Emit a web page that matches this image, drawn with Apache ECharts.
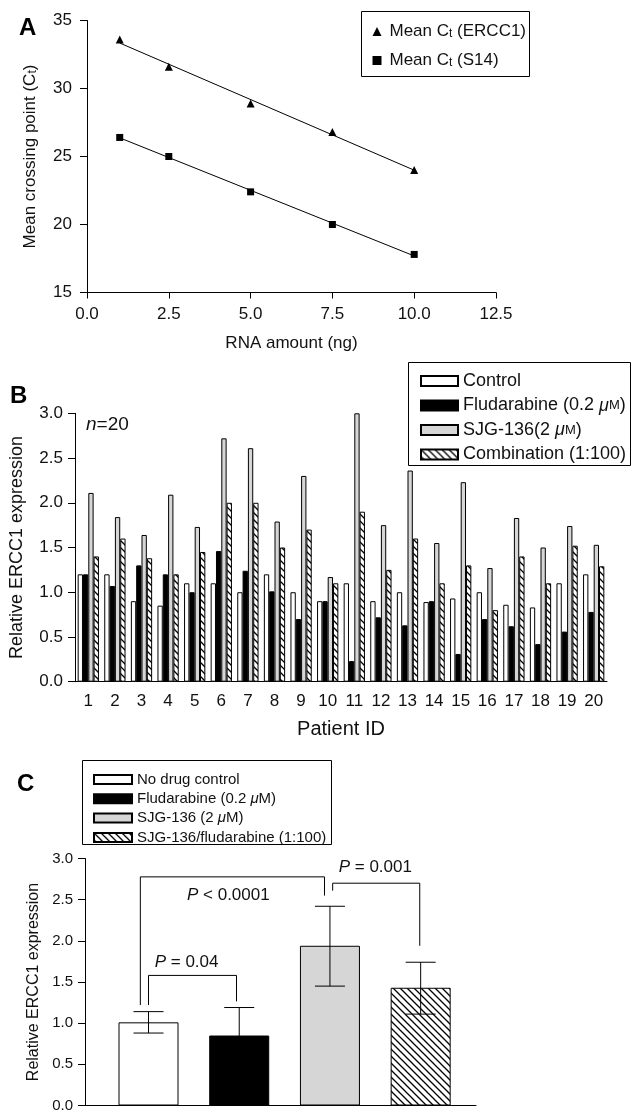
<!DOCTYPE html>
<html><head><meta charset="utf-8">
<script src="https://cdn.jsdelivr.net/npm/echarts@6/dist/echarts.min.js"></script>
<style>html,body{margin:0;padding:0;background:#fff}#c{width:632px;height:1113px}</style>
</head><body><div id="c"></div>
<script>
// ---------- Panel A data ----------
const rnaAmounts = [1, 2.5, 5, 7.5, 10];
const ctERCC1 = [33.6, 31.6, 28.9, 26.8, 24.0];
const ctS14 = [26.4, 25.0, 22.4, 20.0, 17.8];

// ---------- Panel B data ----------
const patientIds = ['1','2','3','4','5','6','7','8','9','10','11','12','13','14','15','16','17','18','19','20'];
const bControl = [1.20, 1.20, 0.90, 0.85, 1.10, 1.10, 1.00, 1.20, 1.00, 0.90, 1.10, 0.90, 1.00, 0.89, 0.93, 1.00, 0.86, 0.83, 1.10, 1.20];
const bFlud    = [1.20, 1.07, 1.30, 1.20, 1.00, 1.46, 1.24, 1.01, 0.70, 0.90, 0.23, 0.72, 0.63, 0.90, 0.31, 0.70, 0.62, 0.42, 0.56, 0.78];
const bSJG     = [2.11, 1.84, 1.64, 2.09, 1.73, 2.72, 2.61, 1.79, 2.30, 1.17, 3.00, 1.75, 2.36, 1.55, 2.23, 1.27, 1.83, 1.50, 1.74, 1.53];
const bCombo   = [1.40, 1.60, 1.38, 1.20, 1.45, 2.00, 2.00, 1.50, 1.70, 1.10, 1.90, 1.25, 1.60, 1.10, 1.30, 0.80, 1.40, 1.10, 1.52, 1.29];

// ---------- Panel C data ----------
const cPositions = [1, 2, 3, 4];
const cNames = ['No drug control', 'Fludarabine (0.2 \u03bcM)', 'SJG-136 (2 \u03bcM)', 'SJG-136/fludarabine (1:100)'];
const cMeans = [1.01, 0.85, 1.94, 1.43];
const cLow   = [0.88, 0.51, 1.45, 1.11];
const cHigh  = [1.14, 1.19, 2.42, 1.74];
const cBrackets = [
  [[1.00, 1.22], [1.00, 1.58], [1.97, 1.58], [1.97, 1.265]],
  [[0.91, 1.22], [0.91, 2.777], [2.94, 2.777], [2.94, 2.55]],
  [[3.03, 2.61], [3.03, 2.70], [3.99, 2.70], [3.99, 1.94]]
];
const cPLabels = [
  [1.42, 1.74, ' = 0.04'],
  [1.88, 2.55, ' < 0.0001'],
  [3.50, 2.89, ' = 0.001']
];

const bNames = ['Control', 'Fludarabine (0.2 \u00b5M)', 'SJG-136(2 \u00b5M)', 'Combination (1:100)'];

const FONT = '"Liberation Sans", Arial, Helvetica, sans-serif';
const TXT = '#111';

function hatch() {
  const c = document.createElement('canvas');
  c.width = 7; c.height = 7;
  const g = c.getContext('2d');
  g.fillStyle = '#fff'; g.fillRect(0, 0, 7, 7);
  g.strokeStyle = '#000'; g.lineWidth = 1.3;
  g.beginPath();
  g.moveTo(0, 0); g.lineTo(7, 7);
  g.moveTo(-1, 6); g.lineTo(1, 8);
  g.moveTo(6, -1); g.lineTo(8, 1);
  g.stroke();
  return c;
}
const hatchPattern = { image: hatch(), repeat: 'repeat' };

function fit(xs, ys) {
  const n = xs.length;
  const mx = xs.reduce((a, b) => a + b, 0) / n;
  const my = ys.reduce((a, b) => a + b, 0) / n;
  let sxy = 0, sxx = 0;
  for (let i = 0; i < n; i++) { sxy += (xs[i] - mx) * (ys[i] - my); sxx += (xs[i] - mx) ** 2; }
  const b = sxy / sxx, a = my - b * mx;
  const x0 = xs[0], x1 = xs[n - 1];
  return [[x0, a + b * x0], [x1, a + b * x1]];
}

const axisLineStyle = { lineStyle: { color: '#000', width: 1 } };
const tickStyle = { show: true, inside: false, length: 7, lineStyle: { color: '#000', width: 1 } };

const barStyles = [
  { color: '#fff', borderColor: '#000', borderWidth: 1 },
  { color: '#000', borderColor: '#000', borderWidth: 1 },
  { color: '#d6d6d6', borderColor: '#000', borderWidth: 1 },
  { color: hatchPattern, borderColor: '#000', borderWidth: 1 }
];

function muFmt(name) {
  return name.replace(/[\u00b5\u03bc]M/, '{i|\u03bc}{m|M}');
}

const bSeriesData = [bControl, bFlud, bSJG, bCombo];

const option = {
  animation: false,
  textStyle: { fontFamily: FONT, color: TXT },
  grid: [
    { left: 87, top: 20.5, width: 409, height: 272 },
    { left: 75, top: 413.3, width: 532, height: 268.4 },
    { left: 85, top: 858.5, width: 391, height: 247.5 }
  ],
  xAxis: [
    { gridIndex: 0, type: 'value', min: 0, max: 12.5, interval: 2.5,
      axisLine: axisLineStyle, axisTick: Object.assign({}, tickStyle, { length: 6 }), splitLine: { show: false },
      axisLabel: { color: TXT, fontSize: 17, fontFamily: FONT, margin: 13, formatter: v => v.toFixed(1) },
      name: 'RNA amount (ng)', nameLocation: 'middle', nameGap: 42,
      nameTextStyle: { color: TXT, fontSize: 17, fontFamily: FONT } },
    { gridIndex: 1, type: 'category', data: patientIds,
      axisLine: axisLineStyle, axisTick: { show: false },
      axisLabel: { color: TXT, fontSize: 17, fontFamily: FONT, margin: 11, interval: 0 },
      name: 'Patient ID', nameLocation: 'middle', nameGap: 38,
      nameTextStyle: { color: TXT, fontSize: 20, fontFamily: FONT } },
    { gridIndex: 2, type: 'value', min: 0.3, max: 4.61,
      axisLine: axisLineStyle, axisTick: { show: false }, axisLabel: { show: false }, splitLine: { show: false } }
  ],
  yAxis: [
    { gridIndex: 0, type: 'value', min: 15, max: 35, interval: 5,
      axisLine: { show: true, lineStyle: { color: '#000', width: 1 } }, axisTick: tickStyle, splitLine: { show: false },
      axisLabel: { color: TXT, fontSize: 17, fontFamily: FONT, margin: 15 },
      name: 'Mean crossing point (C{s|t})', nameLocation: 'middle', nameGap: 48, nameRotate: 90,
      nameTextStyle: { color: TXT, fontSize: 17, fontFamily: FONT, lineHeight: 17,
        rich: { s: { fontSize: 12, fontFamily: FONT, color: TXT, lineHeight: 3, verticalAlign: 'bottom' } } } },
    { gridIndex: 1, type: 'value', min: 0, max: 3, interval: 0.5,
      axisLine: { show: true, lineStyle: { color: '#000', width: 1 } }, axisTick: tickStyle, splitLine: { show: false },
      axisLabel: { color: TXT, fontSize: 17, fontFamily: FONT, margin: 12, formatter: v => v.toFixed(1) },
      name: 'Relative ERCC1 expression', nameLocation: 'middle', nameGap: 49, nameRotate: 90,
      nameTextStyle: { color: TXT, fontSize: 18, fontFamily: FONT } },
    { gridIndex: 2, type: 'value', min: 0, max: 3, interval: 0.5,
      axisLine: { show: true, lineStyle: { color: '#000', width: 1 } }, axisTick: tickStyle, splitLine: { show: false },
      axisLabel: { color: TXT, fontSize: 15, fontFamily: FONT, margin: 12, formatter: v => v.toFixed(1) },
      name: 'Relative ERCC1 expression', nameLocation: 'middle', nameGap: 43, nameRotate: 90,
      nameTextStyle: { color: TXT, fontSize: 16, fontFamily: FONT } }
  ],
  legend: [
    { data: ['ERCC1', 'S14'], orient: 'vertical', left: 367.5, top: 18, itemWidth: 9, itemHeight: 9, itemGap: 12,
      selectedMode: false, z: 10,
      formatter: n => 'Mean C{s|t} (' + n + ')',
      textStyle: { fontSize: 17, fontFamily: FONT, color: TXT, lineHeight: 17, padding: [0, 0, 0, 3],
        rich: { s: { fontSize: 12, fontFamily: FONT, color: TXT, lineHeight: 3, verticalAlign: 'bottom' } } } },
    { data: bNames, orient: 'vertical', left: 415, top: 367, itemWidth: 37, itemHeight: 10, itemGap: 6.5,
      selectedMode: false, icon: 'rect', z: 10,
      formatter: muFmt,
      textStyle: { fontSize: 18, fontFamily: FONT, color: TXT, lineHeight: 18,
        rich: { i: { fontSize: 18, fontStyle: 'italic', fontFamily: FONT, color: TXT }, m: { fontSize: 13, fontFamily: FONT, color: TXT } } } },
    { data: cNames, orient: 'vertical', left: 88, top: 767, itemWidth: 38, itemHeight: 9, itemGap: 4.3,
      selectedMode: false, icon: 'rect', z: 10,
      formatter: n => n.replace('\u03bc', '{i|\u03bc}'),
      textStyle: { fontSize: 15, fontFamily: FONT, color: TXT, lineHeight: 15,
        rich: { i: { fontSize: 15, fontStyle: 'italic', fontFamily: FONT, color: TXT } } } }
  ],
  graphic: [
    { type: 'rect', left: 361, top: 11, shape: { width: 168, height: 65 }, style: { fill: '#fff', stroke: '#000', lineWidth: 1 }, z: 0 },
    { type: 'rect', left: 408, top: 362, shape: { width: 222, height: 103 }, style: { fill: '#fff', stroke: '#000', lineWidth: 1 }, z: 3 },
    { type: 'rect', left: 82, top: 760, shape: { width: 249, height: 84 }, style: { fill: '#fff', stroke: '#000', lineWidth: 1 }, z: 0 },
    { type: 'text', left: 19, top: 16, style: { text: 'A', font: 'bold 24px ' + FONT, fill: '#000' } },
    { type: 'text', left: 10, top: 384, style: { text: 'B', font: 'bold 24px ' + FONT, fill: '#000' } },
    { type: 'text', left: 17, top: 772, style: { text: 'C', font: 'bold 24px ' + FONT, fill: '#000' } },
    { type: 'text', left: 86, top: 415, style: { text: '{i|n}=20', font: '19px ' + FONT, fill: TXT,
        rich: { i: { fontStyle: 'italic', fontSize: 19, fontFamily: FONT, fill: TXT } } } }
  ],
  series: [
    // Panel A
    { name: 'ERCC1', type: 'scatter', xAxisIndex: 0, yAxisIndex: 0, symbol: 'triangle', symbolSize: 8,
      itemStyle: { color: '#000', opacity: 1 }, data: rnaAmounts.map((x, i) => [x, ctERCC1[i]]), z: 3 },
    { name: 'S14', type: 'scatter', xAxisIndex: 0, yAxisIndex: 0, symbol: 'rect', symbolSize: 7,
      itemStyle: { color: '#000', opacity: 1 }, data: rnaAmounts.map((x, i) => [x, ctS14[i]]), z: 3 },
    { name: 'fitERCC1', type: 'line', xAxisIndex: 0, yAxisIndex: 0, symbol: 'none', silent: true,
      lineStyle: { color: '#000', width: 1 }, data: fit(rnaAmounts, ctERCC1) },
    { name: 'fitS14', type: 'line', xAxisIndex: 0, yAxisIndex: 0, symbol: 'none', silent: true,
      lineStyle: { color: '#000', width: 1 }, data: fit(rnaAmounts, ctS14) },
    // Panel B
    ...bNames.map((n, k) => ({
      name: n, type: 'bar', xAxisIndex: 1, yAxisIndex: 1, barWidth: '20%', barGap: 0,
      itemStyle: barStyles[k], data: bSeriesData[k], z: 2
    })),
    // Panel C bars
    ...cNames.map((n, k) => ({
      name: n, type: 'bar', xAxisIndex: 2, yAxisIndex: 2, barWidth: 60, barGap: '-100%',
      itemStyle: barStyles[k], data: [[cPositions[k], cMeans[k]]], z: 2
    })),
    // Panel C error bars
    { name: 'err', type: 'custom', xAxisIndex: 2, yAxisIndex: 2, z: 10, silent: true,
      data: cPositions.map((p, i) => [p, cLow[i], cHigh[i]]),
      renderItem: (params, api) => {
        const x = api.value(0);
        const lo = api.coord([x, api.value(1)]);
        const hi = api.coord([x, api.value(2)]);
        const w = 15;
        const st = { stroke: '#000', lineWidth: 1 };
        return { type: 'group', children: [
          { type: 'line', shape: { x1: lo[0], y1: lo[1], x2: hi[0], y2: hi[1] }, style: st },
          { type: 'line', shape: { x1: hi[0] - w, y1: hi[1], x2: hi[0] + w, y2: hi[1] }, style: st },
          { type: 'line', shape: { x1: lo[0] - w, y1: lo[1], x2: lo[0] + w, y2: lo[1] }, style: st }
        ] };
      } },
    // Panel C brackets
    ...cBrackets.map((b, i) => ({
      name: 'br' + i, type: 'line', xAxisIndex: 2, yAxisIndex: 2, symbol: 'none', silent: true,
      lineStyle: { color: '#000', width: 1 }, data: b, z: 4
    })),
    // Panel C p-value labels
    { name: 'plabels', type: 'scatter', xAxisIndex: 2, yAxisIndex: 2, symbolSize: 0, silent: true,
      itemStyle: { opacity: 1 },
      data: cPLabels,
      label: { show: true, position: 'inside', color: TXT, fontSize: 17, fontFamily: FONT, opacity: 1,
        formatter: p => '{i|P}' + p.data[2],
        rich: { i: { fontStyle: 'italic', fontSize: 17, fontFamily: FONT, color: TXT } } } }
  ]
};

const chart = echarts.init(document.getElementById('c'), null, { renderer: 'canvas' });
chart.setOption(option);
</script>
</body></html>
